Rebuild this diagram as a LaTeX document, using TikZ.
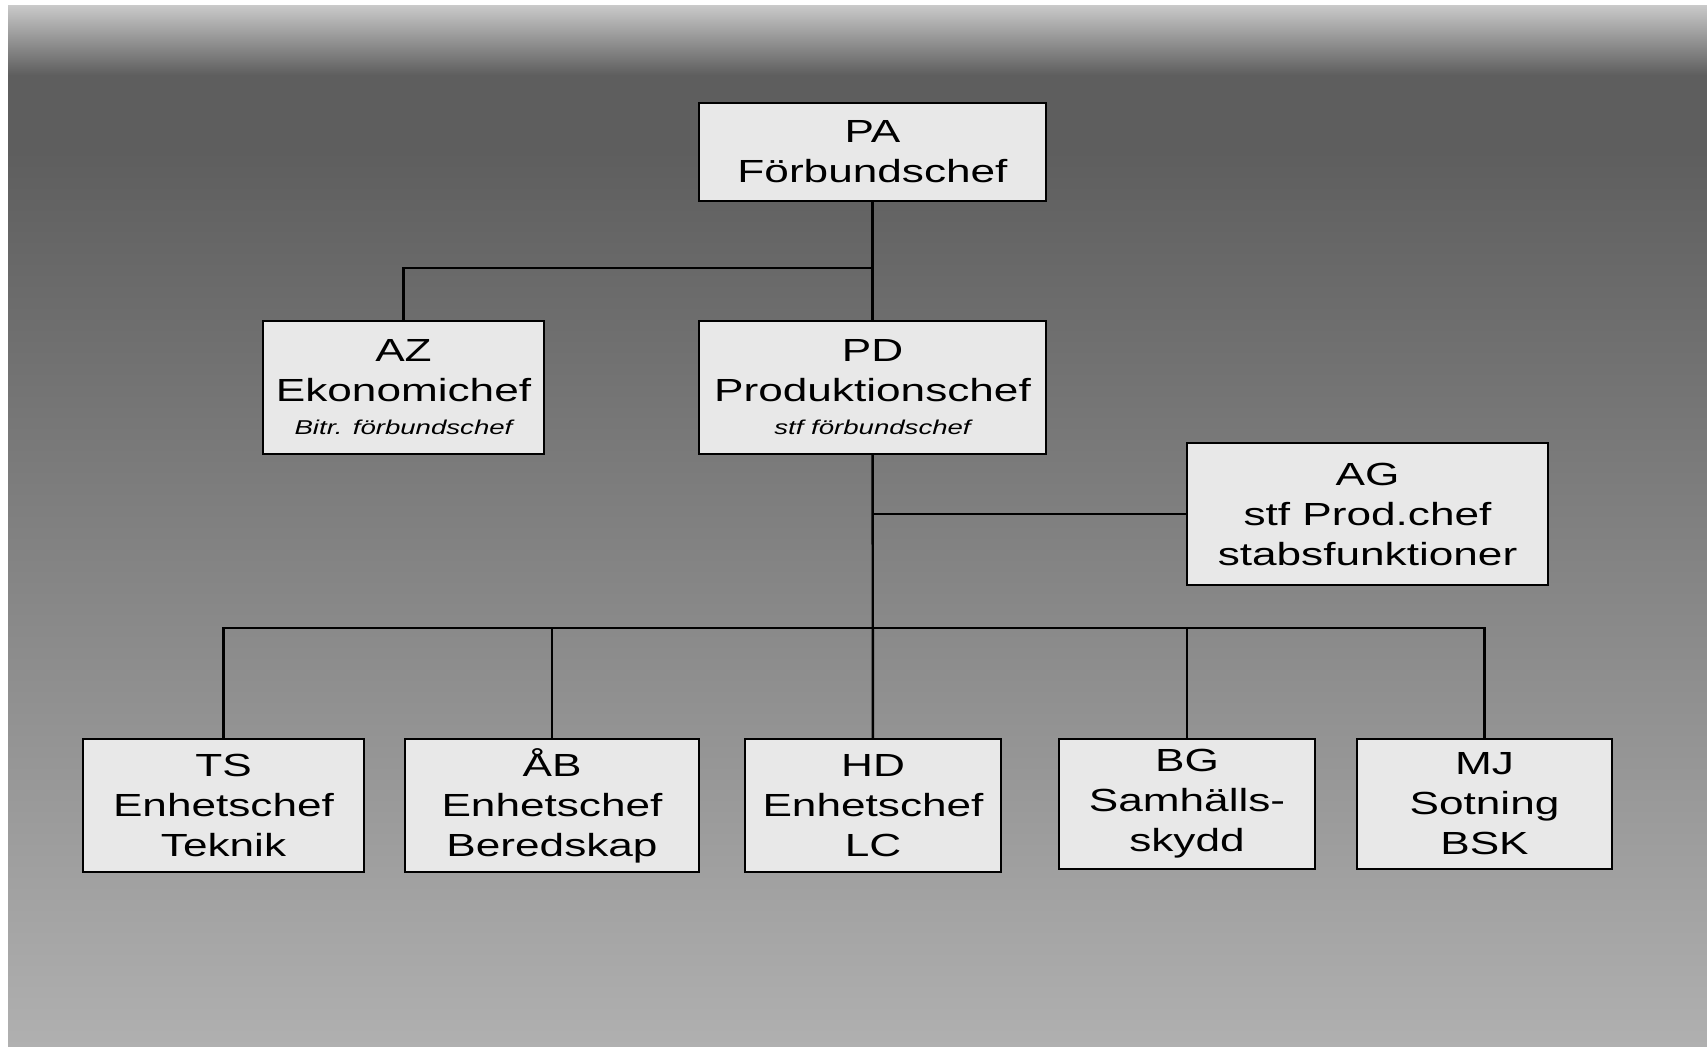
\documentclass[tikz,border=0pt]{standalone}
\usepackage{fontspec}
\setmainfont{Liberation Sans}[FakeStretch=1.38]
\usetikzlibrary{positioning}
\definecolor{boxfill}{HTML}{E8E8E8}
\definecolor{bgtop}{HTML}{C8C8C8}
\definecolor{bgdark}{HTML}{5E5E5E}
\definecolor{bgbottom}{HTML}{B0B0B0}
\tikzstyle{unit} = [rectangle, draw=black, line width=1pt, fill=boxfill, align=center, inner sep=0pt, font=\fontsize{16}{20}\selectfont]
\tikzstyle{line} = [line width=1.2pt, black]
\newcommand{\subtitle}[1]{{\fontsize{10}{12}\selectfont\itshape #1}}

\begin{document}
\begin{tikzpicture}[x=0.5pt, y=-0.5pt]
    \useasboundingbox (0,0) rectangle (1707,1047);
    % background
    \fill[top color=bgtop, bottom color=bgdark] (8,6) rectangle (1707,75);
    \fill[bgdark] (8,75) rectangle (1707,150);
    \fill[top color=bgdark, bottom color=bgbottom] (8,150) rectangle (1707,1047);

    % boxes
    \node (PA) [unit, minimum width=173.5pt, minimum height=49pt] at (872.5,152) {PA\\Förbundschef};
    \node (AZ) [unit, minimum width=140.5pt, minimum height=66.5pt] at (403.5,387.5) {AZ\\Ekonomichef\\[-3.5pt]\subtitle{Bitr. förbundschef}};
    \node (PD) [unit, minimum width=173.5pt, minimum height=66.5pt] at (872.5,387.5) {PD\\Produktionschef\\[-3.5pt]\subtitle{stf förbundschef}};
    \node (AG) [unit, minimum width=180.5pt, minimum height=71pt] at (1367.5,514) {AG\\stf Prod.chef\\stabsfunktioner};
    \node (TS) [unit, minimum width=140.5pt, minimum height=66.5pt] at (223.5,805.5) {TS\\Enhetschef\\Teknik};
    \node (AB) [unit, minimum width=147pt, minimum height=66.5pt] at (552,805.5) {ÅB\\Enhetschef\\Beredskap};
    \node (HD) [unit, minimum width=128pt, minimum height=66.5pt] at (873,805.5) {HD\\Enhetschef\\LC};
    \node (BG) [unit, minimum width=128pt, minimum height=65pt] at (1187,804) {BG\\Samhälls-\\skydd};
    \node (MJ) [unit, minimum width=127.5pt, minimum height=65pt] at (1484.5,804) {MJ\\Sotning\\BSK};

    % connectors
    \coordinate (split) at (872.5,268);
    \coordinate (bus) at (872.5,628);
    \draw [line] (PA) -- (PD);
    \draw [line] (split) -| (AZ.north);
    \draw [line] (PD) -- (HD);
    \draw [line] (AG.west) -- (AG.west -| PD.south);
    \draw [line] (TS.north) |- (bus) -| (MJ.north);
    \foreach \n in {AB, BG}
        \draw [line] (\n.north) -- (\n.north |- bus);
\end{tikzpicture}
\end{document}
